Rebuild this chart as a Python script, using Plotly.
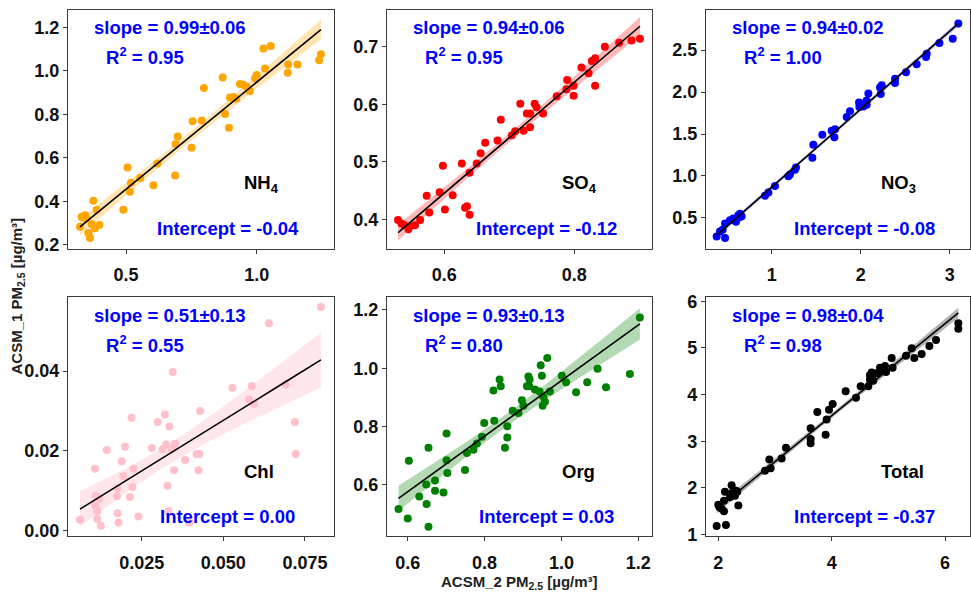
import numpy as np
import plotly.graph_objects as go

# ---------------- data ----------------
nh4_x = [0.324, 0.330, 0.343, 0.349, 0.369, 0.356, 0.362, 0.381, 0.398, 0.375, 0.388, 0.490, 0.506, 0.515,
         0.519, 0.554, 0.605, 0.620, 0.688, 0.690, 0.698, 0.751, 0.755, 0.790, 0.798, 0.870, 0.879, 0.894,
         0.898, 0.911, 0.921, 0.936, 0.949, 0.962, 0.974, 0.994, 1.000, 1.026, 1.032, 1.054, 1.119, 1.121,
         1.156, 1.239, 1.246]
nh4_y = [0.283, 0.328, 0.336, 0.321, 0.295, 0.254, 0.231, 0.276, 0.291, 0.403, 0.361, 0.361, 0.555, 0.444,
         0.485, 0.507, 0.474, 0.574, 0.519, 0.663, 0.698, 0.646, 0.768, 0.771, 0.921, 0.969, 0.801, 0.738,
         0.877, 0.880, 0.872, 0.939, 0.936, 0.927, 0.906, 0.966, 0.981, 1.103, 1.011, 1.114, 0.991, 1.029,
         1.029, 1.048, 1.076]

so4_x = [0.529, 0.534, 0.539, 0.545, 0.547, 0.555, 0.563, 0.573, 0.577, 0.593, 0.601, 0.598, 0.613, 0.627,
         0.632, 0.635, 0.639, 0.639, 0.650, 0.656, 0.663, 0.682, 0.687, 0.704, 0.709, 0.717, 0.722, 0.727,
         0.732, 0.732, 0.739, 0.742, 0.752, 0.773, 0.788, 0.789, 0.799, 0.799, 0.811, 0.822, 0.827, 0.832,
         0.832, 0.847, 0.869, 0.888, 0.901]
so4_y = [0.399, 0.393, 0.390, 0.383, 0.388, 0.390, 0.399, 0.441, 0.412, 0.447, 0.417, 0.493, 0.442, 0.497,
         0.420, 0.423, 0.408, 0.481, 0.497, 0.515, 0.533, 0.537, 0.573, 0.546, 0.553, 0.601, 0.554, 0.584,
         0.584, 0.560, 0.601, 0.595, 0.584, 0.614, 0.626, 0.642, 0.632, 0.615, 0.664, 0.654, 0.675, 0.680,
         0.632, 0.700, 0.707, 0.711, 0.714]

no3_x = [0.382, 0.419, 0.449, 0.476, 0.476, 0.532, 0.569, 0.599, 0.625, 0.644, 0.652, 0.663, 0.614, 0.925,
         0.963, 1.037, 1.187, 1.206, 1.262, 1.273, 1.457, 1.468, 1.569, 1.674, 1.704, 1.712, 1.843, 1.880,
         1.981, 1.985, 2.030, 2.049, 2.067, 2.086, 2.067, 2.217, 2.225, 2.236, 2.386, 2.386, 2.509, 2.629,
         2.734, 2.742, 2.884, 3.034, 3.097]
no3_y = [0.279, 0.337, 0.357, 0.434, 0.260, 0.473, 0.492, 0.453, 0.531, 0.550, 0.512, 0.519, 0.492, 0.764,
         0.802, 0.880, 0.996, 1.016, 1.074, 1.101, 1.217, 1.372, 1.492, 1.539, 1.461, 1.558, 1.702, 1.771,
         1.876, 1.822, 1.829, 1.868, 1.899, 1.984, 1.849, 2.054, 1.977, 2.081, 2.159, 2.109, 2.236, 2.333,
         2.419, 2.457, 2.585, 2.636, 2.818]

chl_x = [0.0061, 0.0107, 0.0110, 0.0107, 0.0114, 0.0114, 0.0125, 0.0120, 0.0143, 0.0174, 0.0176, 0.0179,
         0.0176, 0.0189, 0.0194, 0.0199, 0.0214, 0.0222, 0.0225, 0.0219, 0.0240, 0.0281, 0.0299, 0.0321,
         0.0325, 0.0329, 0.0332, 0.0335, 0.0342, 0.0314, 0.0345, 0.0349, 0.0352, 0.0383, 0.0396, 0.0418,
         0.0424, 0.0427, 0.0429, 0.0528, 0.0579, 0.0587, 0.0594, 0.0640, 0.0691, 0.0719, 0.0722, 0.0799]
chl_y = [0.0027, 0.0155, 0.0087, 0.0063, 0.0049, 0.0029, 0.0012, 0.0079, 0.0202, 0.0086, 0.0043, 0.0020,
         0.0106, 0.0174, 0.0136, 0.0210, 0.0084, 0.0109, 0.0155, 0.0283, 0.0035, 0.0207, 0.0272, 0.0291,
         0.0216, 0.0112, 0.0049, 0.0261, 0.0204, 0.0204, 0.0398, 0.0151, 0.0218, 0.0177, 0.0020, 0.0192,
         0.0151, 0.0192, 0.0300, 0.0358, 0.0329, 0.0363, 0.0318, 0.0520, 0.0367, 0.0272, 0.0192, 0.0561]

org_x = [0.576, 0.600, 0.603, 0.630, 0.648, 0.649, 0.654, 0.654, 0.671, 0.671, 0.693, 0.701, 0.701, 0.703,
         0.749, 0.754, 0.771, 0.780, 0.793, 0.799, 0.823, 0.825, 0.839, 0.842, 0.853, 0.859, 0.859, 0.873,
         0.888, 0.897, 0.901, 0.910, 0.914, 0.916, 0.917, 0.931, 0.943, 0.946, 0.949, 0.951, 0.953, 0.957,
         0.963, 0.970, 1.001, 1.012, 1.038, 1.067, 1.094, 1.116, 1.178, 1.204]
org_y = [0.517, 0.484, 0.682, 0.560, 0.601, 0.534, 0.727, 0.456, 0.615, 0.579, 0.573, 0.776, 0.684, 0.640,
         0.651, 0.709, 0.720, 0.742, 0.765, 0.812, 0.924, 0.820, 0.961, 0.938, 0.727, 0.801, 0.762, 0.854,
         0.846, 0.890, 0.871, 0.938, 0.972, 0.938, 0.961, 0.927, 0.920, 1.010, 0.974, 0.871, 0.902, 0.885,
         1.035, 0.920, 0.974, 0.952, 0.918, 0.952, 0.998, 0.935, 0.980, 1.174]

tot_x = [1.971, 2.000, 2.018, 2.059, 2.100, 2.118, 2.135, 2.100, 2.206, 2.235, 2.253, 2.294, 2.312, 2.353,
         2.335, 2.824, 2.900, 2.924, 3.118, 3.194, 3.629, 3.629, 3.629, 3.747, 3.894, 3.912, 3.953, 4.018,
         4.247, 4.429, 4.512, 4.647, 4.676, 4.676, 4.706, 4.688, 4.735, 4.794, 4.853, 4.882, 4.912, 4.941,
         4.959, 5.059, 5.076, 5.312, 5.412, 5.459, 5.588, 5.724, 5.841, 6.235, 6.235]
tot_y = [1.188, 1.639, 1.590, 1.556, 1.500, 1.917, 1.208, 1.729, 1.799, 2.056, 1.903, 1.833, 1.938, 1.625,
         1.917, 2.368, 2.611, 2.424, 2.632, 2.861, 2.958, 3.278, 3.049, 3.625, 3.139, 3.465, 3.674, 3.799,
         4.069, 3.931, 4.181, 4.181, 4.319, 4.417, 4.472, 4.368, 4.299, 4.458, 4.576, 4.507, 4.542, 4.611,
         4.486, 4.785, 4.576, 4.833, 4.993, 4.785, 4.868, 5.042, 5.167, 5.528, 5.410]

species = ["NH<sub>4</sub>", "SO<sub>4</sub>", "NO<sub>3</sub>", "Chl", "Org", "Total"]
slope_labels = ["0.99±0.06", "0.94±0.06", "0.94±0.02", "0.51±0.13", "0.93±0.13", "0.98±0.04"]
r2_labels = ["0.95", "0.95", "1.00", "0.55", "0.80", "0.98"]
intercept_labels = ["-0.04", "-0.12", "-0.08", "0.00", "0.03", "-0.37"]
colors = ["#FFA500", "#FF0000", "#0000FF", "#FFC0CB", "#008000", "#000000"]
band_colors = ["rgba(255,165,0,0.30)", "rgba(255,0,0,0.28)", "rgba(0,0,255,0.25)",
               "rgba(255,192,203,0.40)", "rgba(0,128,0,0.30)", "rgba(0,0,0,0.30)"]

xs = [nh4_x, so4_x, no3_x, chl_x, org_x, tot_x]
ys = [nh4_y, so4_y, no3_y, chl_y, org_y, tot_y]

x_ranges = [[0.278, 1.296], [0.512, 0.9195], [0.262, 3.228], [0.00244, 0.0839], [0.546, 1.2356], [1.783, 6.441]]
y_ranges = [[0.182, 1.28], [0.349, 0.764], [0.132, 2.98], [-0.00147, 0.0585], [0.423, 1.243], [0.965, 6.08]]
x_ticks = [[0.5, 1.0], [0.6, 0.8], [1, 2, 3], [0.025, 0.05, 0.075], [0.6, 0.8, 1.0, 1.2], [2, 4, 6]]
y_ticks = [[0.2, 0.4, 0.6, 0.8, 1.0, 1.2], [0.4, 0.5, 0.6, 0.7], [0.5, 1.0, 1.5, 2.0, 2.5],
           [0.0, 0.02, 0.04], [0.6, 0.8, 1.0, 1.2], [1, 2, 3, 4, 5, 6]]
x_fmt = [".1f", ".1f", "d", ".3f", ".1f", "d"]
y_fmt = [".1f", ".1f", ".1f", ".2f", ".1f", "d"]

# ---------------- layout geometry ----------------
W, H = 971, 596
col_px = [(68, 334), (387, 652), (706, 970)]
row_px = [(4, 249), (299, 544)]

fig = go.Figure()
FONT = "Liberation Sans, Arial, sans-serif"
frame = "#3a3a3a"

for i in range(6):
    r, c = divmod(i, 3)
    k = "" if i == 0 else str(i + 1)
    xa, ya = "x" + k, "y" + k
    x = np.array(xs[i]); y = np.array(ys[i])
    # regression with 95% CI of the mean
    b, a = np.polyfit(x, y, 1)
    n = len(x)
    resid = y - (a + b * x)
    s = np.sqrt(np.sum(resid ** 2) / (n - 2))
    xg = np.linspace(x.min(), x.max(), 100)
    yg = a + b * xg
    se = s * np.sqrt(1.0 / n + (xg - x.mean()) ** 2 / np.sum((x - x.mean()) ** 2))
    t = 2.01
    lo, hi = yg - t * se, yg + t * se

    fig.add_trace(go.Scatter(x=x, y=y, mode="markers", xaxis=xa, yaxis=ya,
                             marker=dict(color=colors[i], size=8, line=dict(width=0)),
                             showlegend=False))
    fig.add_trace(go.Scatter(x=np.concatenate([xg, xg[::-1]]), y=np.concatenate([hi, lo[::-1]]),
                             mode="lines", fill="toself", fillcolor=band_colors[i],
                             line=dict(width=0), xaxis=xa, yaxis=ya, showlegend=False, hoverinfo="skip"))
    fig.add_trace(go.Scatter(x=xg, y=yg, mode="lines", line=dict(color="black", width=1.6),
                             xaxis=xa, yaxis=ya, showlegend=False))

    x0, x1 = col_px[c]
    y0, y1 = row_px[r]
    axis_common = dict(showline=True, mirror=True, linecolor=frame, linewidth=1.2,
                       ticks="outside", ticklen=4, tickcolor=frame, showgrid=False, zeroline=False,
                       tickfont=dict(family=FONT, size=18, color="#111", weight="bold"))
    fig.layout["xaxis" + k] = dict(domain=[x0 / W, x1 / W], anchor=ya, range=x_ranges[i],
                                   tickvals=x_ticks[i], tickformat=x_fmt[i], ticklabelstandoff=6,
                                   **axis_common)
    fig.layout["yaxis" + k] = dict(domain=[1 - y1 / H, 1 - y0 / H], anchor=xa, range=y_ranges[i],
                                   tickvals=y_ticks[i], tickformat=y_fmt[i], **axis_common)

    xd, yd = xa + " domain", ya + " domain"
    blue = dict(family=FONT, size=18.5, color="#0000FF")
    fig.add_annotation(text="<b>slope = %s</b>" % slope_labels[i], xref=xd, yref=yd, x=0.385, y=0.925,
                       xanchor="center", yanchor="middle", showarrow=False, font=blue)
    fig.add_annotation(text="<b>R<sup>2</sup> = %s</b>" % r2_labels[i], xref=xd, yref=yd, x=0.29, y=0.805,
                       xanchor="center", yanchor="middle", showarrow=False, font=blue)
    fig.add_annotation(text="<b>%s</b>" % species[i], xref=xd, yref=yd, x=0.654, y=0.272,
                       xanchor="left", yanchor="middle", showarrow=False,
                       font=dict(family=FONT, size=18.5, color="black"))
    fig.add_annotation(text="<b>Intercept = %s</b>" % intercept_labels[i], xref=xd, yref=yd, x=0.60, y=0.085,
                       xanchor="center", yanchor="middle", showarrow=False, font=blue)

fig.add_annotation(text="<b>ACSM_1 PM<sub>2.5</sub> [µg/m³]</b>", xref="paper", yref="paper",
                   x=17 / W, y=0.5, textangle=-90, showarrow=False, xanchor="center", yanchor="middle",
                   font=dict(family=FONT, size=15, color="#222"))
fig.add_annotation(text="<b>ACSM_2 PM<sub>2.5</sub> [µg/m³]</b>", xref="paper", yref="paper",
                   x=519.5 / W, y=0.0, showarrow=False, xanchor="center", yanchor="bottom", yshift=-7,
                   font=dict(family=FONT, size=15, color="#222"))

fig.update_layout(width=W, height=H, margin=dict(l=0, r=0, t=0, b=0),
                  paper_bgcolor="white", plot_bgcolor="white", showlegend=False)
fig.write_html("out.html")
